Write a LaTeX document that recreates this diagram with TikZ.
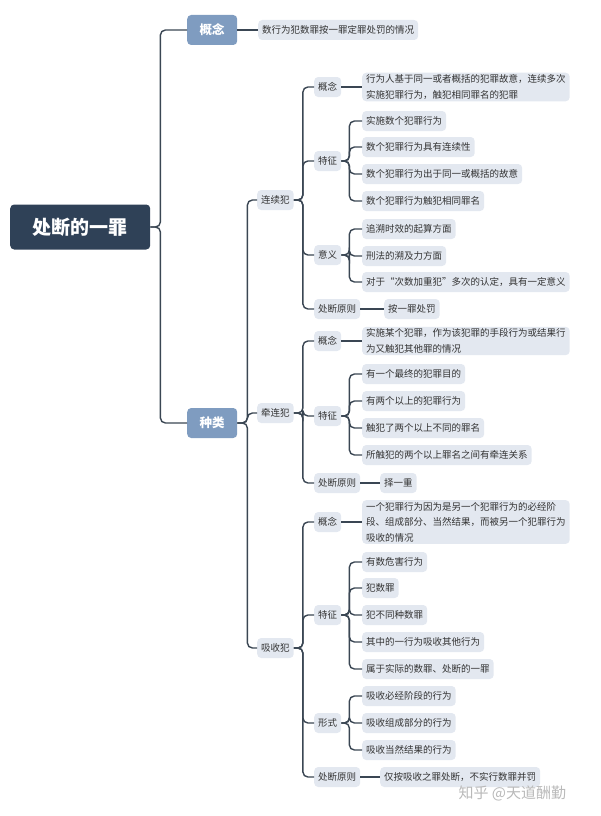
\documentclass[tikz,border=0pt]{standalone}
\usepackage{fontspec}
\setmainfont{Noto Sans CJK SC}
\definecolor{rootc}{HTML}{2F4157}
\definecolor{topc}{HTML}{7F9CC0}
\definecolor{leafc}{HTML}{E3E8F0}
\definecolor{linec}{HTML}{3A4653}
\definecolor{textc}{HTML}{333333}
\tikzset{
  box/.style={anchor=west, fill=leafc, text=textc, rounded corners=4pt, inner xsep=4pt, inner ysep=2pt,
    minimum height=20pt, font=\fontsize{9.5}{15.5}\selectfont, align=left},
  top/.style={box, fill=topc, text=white, minimum width=50pt, minimum height=30pt, align=center,
    font=\fontsize{12.5}{15}\selectfont\bfseries},
  link/.style={draw=linec, line width=1.4pt, rounded corners=5pt},
}
\begin{document}
\begin{tikzpicture}[x=1pt, y=-1pt]
\useasboundingbox (0,0) rectangle (600,816);
%root and first level
\node[top, fill=rootc, minimum width=140pt, minimum height=45pt, font=\fontsize{19}{22}\selectfont\bfseries] (root) at (10,227) {处断的一罪};
\node[top] (gn) at (187,30) {概念};
\node[top] (zl) at (187,423) {种类};
\node[box] (gn-a) at (258,30) {数行为犯数罪按一罪定罪处罚的情况};
\draw[link] (root.east) -- ++(10,0) |- (gn.west);
\draw[link] (root.east) -- ++(10,0) |- (zl.west);
\draw[link] (gn.east) -- (gn-a.west);
%second level
\node[box] (lx) at (257,200) {连续犯};
\node[box] (qx) at (257,413) {牵连犯};
\node[box] (xs) at (257,648) {吸收犯};
\foreach \k in {lx,qx,xs}
  \draw[link] (zl.east) -- ++(10,0) |- (\k.west);
%lianxufan
\node[box] (lx-gn) at (314,87) {概念};
\node[box] (lx-tz) at (314,161) {特征};
\node[box] (lx-yy) at (314,255) {意义};
\node[box] (lx-yz) at (314,309) {处断原则};
\foreach \k in {gn,tz,yy,yz}
  \draw[link] (lx.east) -- ++(9,0) |- (lx-\k.west);
\node[box] (lx-gn-a) at (362,87) {行为人基于同一或者概括的犯罪故意，连续多次\\实施犯罪行为，触犯相同罪名的犯罪};
\draw[link] (lx-gn.east) -- (lx-gn-a.west);
\foreach \t/\y [count=\i] in {实施数个犯罪行为/121, 数个犯罪行为具有连续性/147,
    数个犯罪行为出于同一或概括的故意/174, 数个犯罪行为触犯相同罪名/201}{
  \node[box] (lx-tz-\i) at (362,\y) {\t};
  \draw[link] (lx-tz.east) -- ++(8,0) |- (lx-tz-\i.west);
}
\foreach \t/\y [count=\i] in {追溯时效的起算方面/229, 刑法的溯及力方面/256,
    对于“次数加重犯”多次的认定，具有一定意义/282}{
  \node[box] (lx-yy-\i) at (362,\y) {\t};
  \draw[link] (lx-yy.east) -- ++(8,0) |- (lx-yy-\i.west);
}
\node[box] (lx-yz-a) at (384,309) {按一罪处罚};
\draw[link] (lx-yz.east) -- (lx-yz-a.west);
%qianlianfan
\node[box] (qx-gn) at (314,341) {概念};
\node[box] (qx-tz) at (314,416) {特征};
\node[box] (qx-yz) at (314,483) {处断原则};
\foreach \k in {gn,tz,yz}
  \draw[link] (qx.east) -- ++(9,0) |- (qx-\k.west);
\node[box] (qx-gn-a) at (362,341) {实施某个犯罪，作为该犯罪的手段行为或结果行\\为又触犯其他罪的情况};
\draw[link] (qx-gn.east) -- (qx-gn-a.west);
\foreach \t/\y [count=\i] in {有一个最终的犯罪目的/374, 有两个以上的犯罪行为/401,
    触犯了两个以上不同的罪名/428, 所触犯的两个以上罪名之间有牵连关系/455}{
  \node[box] (qx-tz-\i) at (362,\y) {\t};
  \draw[link] (qx-tz.east) -- ++(8,0) |- (qx-tz-\i.west);
}
\node[box] (qx-yz-a) at (380,483) {择一重};
\draw[link] (qx-yz.east) -- (qx-yz-a.west);
%xishoufan
\node[box] (xs-gn) at (314,522) {概念};
\node[box] (xs-tz) at (314,615) {特征};
\node[box] (xs-xs) at (314,723) {形式};
\node[box] (xs-yz) at (314,777) {处断原则};
\foreach \k in {gn,tz,xs,yz}
  \draw[link] (xs.east) -- ++(9,0) |- (xs-\k.west);
\node[box] (xs-gn-a) at (362,522) {一个犯罪行为因为是另一个犯罪行为的必经阶\\段、组成部分、当然结果，而被另一个犯罪行为\\吸收的情况};
\draw[link] (xs-gn.east) -- (xs-gn-a.west);
\foreach \t/\y [count=\i] in {有数危害行为/562, 犯数罪/588, 犯不同种数罪/615,
    其中的一行为吸收其他行为/642, 属于实际的数罪、处断的一罪/669}{
  \node[box] (xs-tz-\i) at (362,\y) {\t};
  \draw[link] (xs-tz.east) -- ++(8,0) |- (xs-tz-\i.west);
}
\foreach \t/\y [count=\i] in {吸收必经阶段的行为/696, 吸收组成部分的行为/723, 吸收当然结果的行为/750}{
  \node[box] (xs-xs-\i) at (362,\y) {\t};
  \draw[link] (xs-xs.east) -- ++(8,0) |- (xs-xs-\i.west);
}
\node[box] (xs-yz-a) at (380,777) {仅按吸收之罪处断，不实行数罪并罚};
\draw[link] (xs-yz.east) -- (xs-yz-a.west);
%watermark
\node[anchor=west, text=gray!55, font=\fontsize{15}{17}\selectfont] (wm) at (455,793) {知乎 @天道酬勤};
\end{tikzpicture}
\end{document}
